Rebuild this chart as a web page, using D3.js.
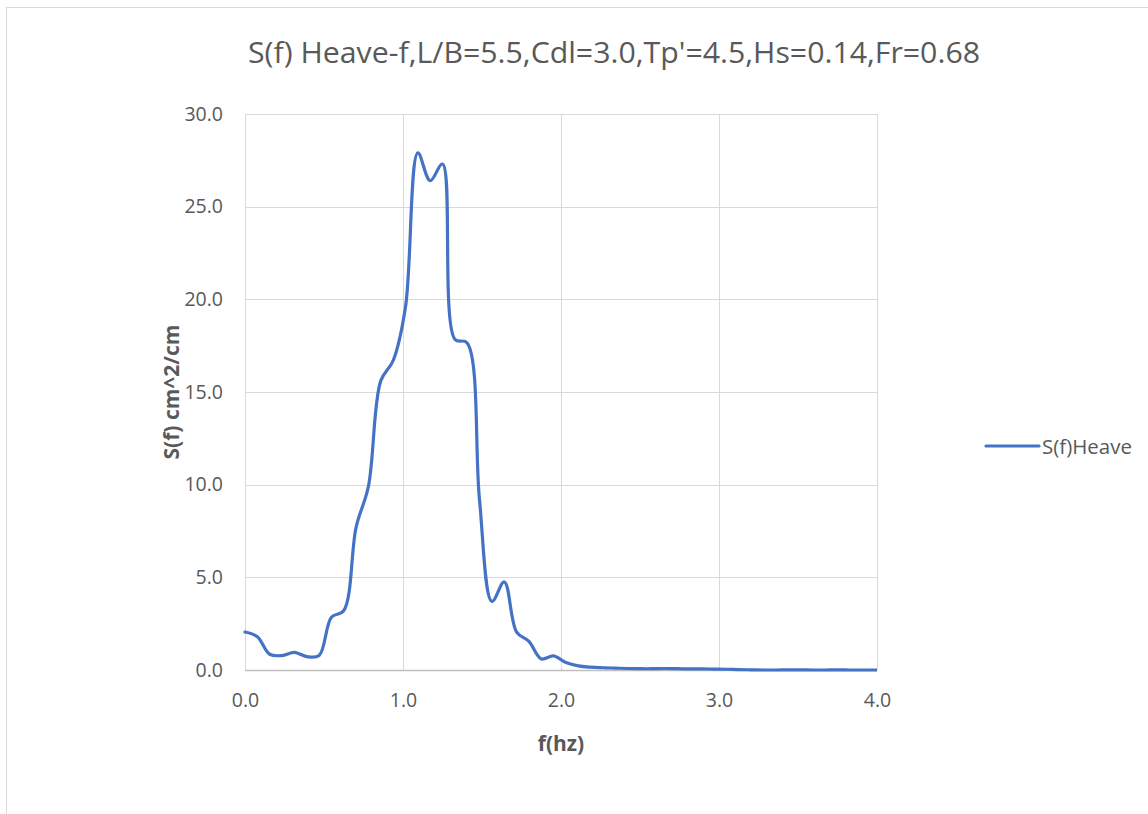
<!DOCTYPE html>
<html>
<head>
<meta charset="utf-8">
<script src="https://cdn.jsdelivr.net/npm/d3@7"></script>
<style>
  html, body { margin: 0; padding: 0; background: #fff; }
  svg { display: block; }
  text { font-family: "Open Sans", "Noto Sans", sans-serif; fill: #595959; }
</style>
</head>
<body>
<svg id="chart" width="1148" height="814"></svg>
<script>
// ---- data ----
const chartTitle = "S(f) Heave-f,L/B=5.5,Cdl=3.0,Tp'=4.5,Hs=0.14,Fr=0.68";
const seriesName = "S(f)Heave";
const xTitle = "f(hz)";
const yTitle = "S(f) cm^2/cm";
const freq = [0.000, 0.078, 0.156, 0.234, 0.313, 0.391, 0.469, 0.547, 0.625, 0.703,
              0.781, 0.859, 0.938, 1.016, 1.094, 1.172, 1.250, 1.328, 1.406, 1.484,
              1.563, 1.641, 1.719, 1.797, 1.875, 1.953, 2.031, 2.109, 2.188, 2.266,
              2.344, 2.422, 2.500, 2.578, 2.656, 2.734, 2.813, 2.891, 2.969, 3.047,
              3.125, 3.203, 3.281, 3.359, 3.438, 3.516, 3.594, 3.672, 3.750, 3.828,
              3.906, 3.984, 4.063];
const heave = [2.05, 1.80, 0.85, 0.78, 0.95, 0.72, 0.78, 2.85, 3.20, 7.70,
               9.90, 15.60, 16.70, 19.60, 27.90, 26.40, 27.30, 17.85, 17.65, 9.20,
               3.70, 4.75, 2.05, 1.55, 0.60, 0.76, 0.40, 0.22, 0.15, 0.12,
               0.10, 0.08, 0.07, 0.07, 0.08, 0.07, 0.06, 0.06, 0.05, 0.04,
               0.02, 0.01, 0.00, 0.00, 0.01, 0.01, 0.00, 0.00, 0.01, 0.00,
               0.00, 0.00, 0.00];
const xTicks = [0, 1, 2, 3, 4];
const yTicks = [0, 5, 10, 15, 20, 25, 30];

// ---- layout ----
const svg = d3.select("#chart");
const plot = { left: 245, right: 877, top: 114, bottom: 670 };

// outer chart border
svg.append("rect")
  .attr("x", 6.5).attr("y", 7.5)
  .attr("width", 1200).attr("height", 900)
  .attr("fill", "none").attr("stroke", "#d9d9d9").attr("stroke-width", 1);

const x = d3.scaleLinear().domain([0, 4]).range([plot.left, plot.right]);
const y = d3.scaleLinear().domain([0, 30]).range([plot.bottom, plot.top]);

// gridlines
svg.append("g").selectAll("line.h").data(yTicks.filter(d => d > 0)).join("line")
  .attr("x1", plot.left).attr("x2", plot.right)
  .attr("y1", d => Math.round(y(d)) + 0.5).attr("y2", d => Math.round(y(d)) + 0.5)
  .attr("stroke", "#d9d9d9").attr("stroke-width", 1);
svg.append("g").selectAll("line.v").data(xTicks).join("line")
  .attr("y1", plot.top).attr("y2", plot.bottom)
  .attr("x1", d => Math.round(x(d)) + 0.5).attr("x2", d => Math.round(x(d)) + 0.5)
  .attr("stroke", "#d9d9d9").attr("stroke-width", 1);

// x axis line
svg.append("line")
  .attr("x1", plot.left).attr("x2", plot.right)
  .attr("y1", plot.bottom + 0.5).attr("y2", plot.bottom + 0.5)
  .attr("stroke", "#bfbfbf").attr("stroke-width", 1.5);

// axes with d3 axis generators (labels only)
const xAxis = svg.append("g").attr("transform", `translate(0,${plot.bottom})`)
  .call(d3.axisBottom(x).tickValues(xTicks).tickFormat(d3.format(".1f")).tickSize(0).tickPadding(23));
xAxis.select(".domain").remove();
xAxis.selectAll("text").style("font-size", "19.5px").attr("fill", "#595959")
  .style("font-family", "'Open Sans', sans-serif");

const yAxis = svg.append("g").attr("transform", `translate(${plot.left},0)`)
  .call(d3.axisLeft(y).tickValues(yTicks).tickFormat(d3.format(".1f")).tickSize(0).tickPadding(22));
yAxis.select(".domain").remove();
yAxis.selectAll("text").style("font-size", "19.5px").attr("fill", "#595959")
  .style("font-family", "'Open Sans', sans-serif");

// clip
svg.append("clipPath").attr("id", "clip").append("rect")
  .attr("x", plot.left - 3).attr("y", plot.top - 5)
  .attr("width", plot.right - plot.left + 3).attr("height", plot.bottom - plot.top + 10);

// line
const pts = freq.map((f, i) => [f, heave[i]]);
const line = d3.line().x(d => x(d[0])).y(d => y(d[1])).curve(d3.curveCatmullRom.alpha(0.5));
svg.append("path").datum(pts)
  .attr("clip-path", "url(#clip)")
  .attr("d", line)
  .attr("fill", "none").attr("stroke", "#4472c4").attr("stroke-width", 3.2)
  .attr("stroke-linejoin", "round").attr("stroke-linecap", "round");

// title
svg.append("text")
  .attr("x", 614).attr("y", 63).attr("text-anchor", "middle")
  .attr("textLength", 732).attr("lengthAdjust", "spacingAndGlyphs")
  .style("font-size", "29px").text(chartTitle);

// axis titles
svg.append("text")
  .attr("x", 561).attr("y", 751).attr("text-anchor", "middle")
  .style("font-size", "21px").style("font-weight", "bold").text(xTitle);
svg.append("text")
  .attr("transform", `translate(179,${(plot.top + plot.bottom) / 2}) rotate(-90)`)
  .attr("text-anchor", "middle")
  .style("font-size", "21px").style("font-weight", "bold").text(yTitle);

// legend
svg.append("line")
  .attr("x1", 986).attr("x2", 1039).attr("y1", 446).attr("y2", 446)
  .attr("stroke", "#4472c4").attr("stroke-width", 3.2).attr("stroke-linecap", "round");
svg.append("text")
  .attr("x", 1042).attr("y", 453.5)
  .style("font-size", "20.5px").text(seriesName);
</script>
</body>
</html>
